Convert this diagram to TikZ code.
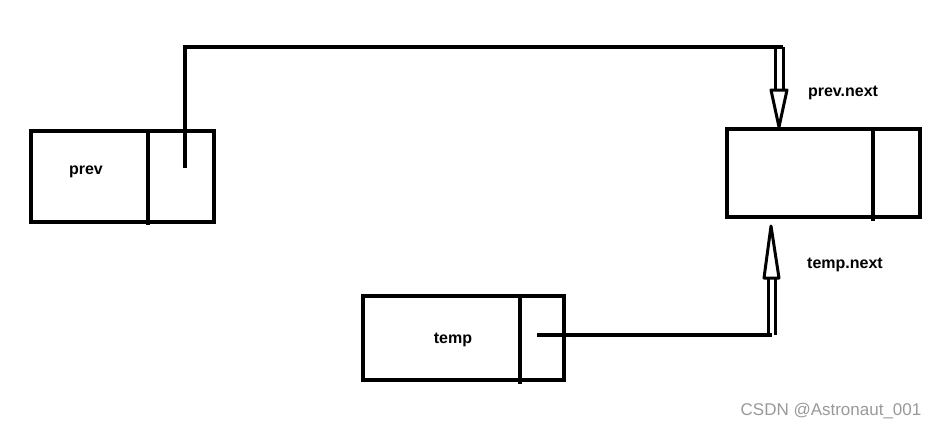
\documentclass[tikz,border=0pt]{standalone}
\usepackage{fontspec}
\setmainfont{Liberation Sans}
\begin{document}
\begin{tikzpicture}[x=1pt,y=-1pt,line width=3.5pt,
  lbl/.style={font=\bfseries\fontsize{16}{18}\selectfont},
  boxx/.style={draw,line join=miter}]
\useasboundingbox (0,0) rectangle (945,431);
% boxes
\draw[boxx] (31,131) rectangle (214,222);
\draw (148,131) -- (148,225);
\draw[boxx] (727,129) rectangle (920,217);
\draw (873,129) -- (873,221);
\draw[boxx] (363,296) rectangle (564,380);
\draw (520,296) -- (520,384);
% labels
\node[lbl] (prev) at (86,172) {prev};
\node[lbl] (temp) at (453,340) {temp};
\node[lbl] (pn) at (843,93) {prev.next};
\node[lbl] (tn) at (845,265) {temp.next};
\node[text=gray!80,font=\fontsize{17}{19}\selectfont] (wm) at (831,411) {CSDN @Astronaut\_001};
% top connector
\coordinate (a1) at (185,168);
\coordinate (a2) at (185,47);
\coordinate (a3) at (783,47);
\draw (a1) -- (a2) -- (a3);
\draw[line width=3pt] (775,47) -- (775,90);
\draw[line width=3pt] (783,47) -- (783,90);
\draw[line width=3pt,fill=white,line join=round] (771,90) -- (787,90) -- (779,127) -- cycle;
% bottom connector
\coordinate (b1) at (537,335);
\coordinate (b2) at (772,335);
\draw (b1) -- (b2);
\draw[line width=3pt] (768,335) -- (768,278);
\draw[line width=3pt] (775,335) -- (775,278);
\draw[line width=3pt,fill=white,line join=round] (764,278) -- (779,278) -- (771,226) -- cycle;
\end{tikzpicture}
\end{document}
